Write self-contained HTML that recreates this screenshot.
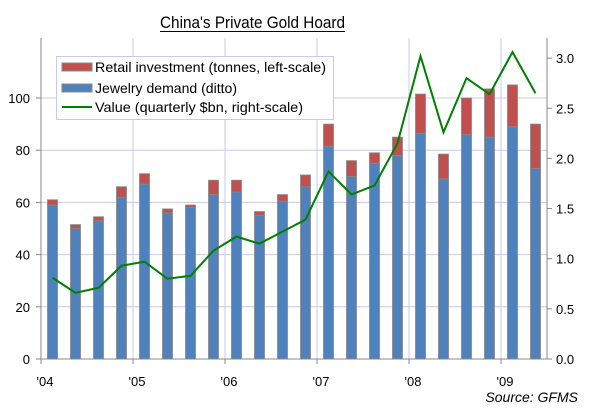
<!DOCTYPE html>
<html><head><meta charset="utf-8"><style>
body{margin:0;background:#fff}
svg{display:block;font-family:"Liberation Sans",sans-serif}
</style></head><body>
<svg id="c" width="607" height="414">
<text x="160" y="28" font-size="17" textLength="185" lengthAdjust="spacingAndGlyphs">China's Private Gold Hoard</text>
<line x1="160" y1="31.5" x2="345" y2="31.5" stroke="#000" stroke-width="1"/>
<g id="grid"></g><g id="bars"></g><g id="line"></g><g id="axes"></g>
<g>
<rect x="56.5" y="56.5" width="277" height="63" fill="#fff" stroke="#c8c8f0"/>
<rect x="62" y="63" width="30" height="8" fill="#c0504d" stroke="#888"/>
<text x="95" y="72" font-size="14" textLength="231" lengthAdjust="spacingAndGlyphs">Retail investment (tonnes, left-scale)</text>
<rect x="62" y="84" width="30" height="8" fill="#4f81bd" stroke="#888"/>
<text x="95" y="93" font-size="14" textLength="142" lengthAdjust="spacingAndGlyphs">Jewelry demand (ditto)</text>
<line x1="62" y1="107" x2="92" y2="107" stroke="#008000" stroke-width="2"/>
<text x="95" y="112" font-size="14" textLength="208" lengthAdjust="spacingAndGlyphs">Value (quarterly $bn, right-scale)</text>
</g>
<text x="578" y="402" text-anchor="end" font-size="14" font-style="italic">Source: GFMS</text>
</svg>
<script>
const years=["'04","'05","'06","'07","'08","'09"];
const leftTicks=[0,20,40,60,80,100];
const rightTicks=["0.0","0.5","1.0","1.5","2.0","2.5","3.0"];
const totals=[61,51.5,54.5,66,71,57.5,59,68.5,68.5,56.5,63,70.5,90,76,79,85,101.5,78.5,100,103.5,105,90];
const jewelry=[59,50,53,62,67,56,58,63,64,55,60.5,66,81.5,70,75,78,86.5,69,86,85,89,73];
const values=[0.81,0.66,0.71,0.93,0.97,0.80,0.83,1.08,1.22,1.15,1.27,1.39,1.87,1.64,1.73,2.15,3.02,2.26,2.80,2.64,3.06,2.65];
const NS="http://www.w3.org/2000/svg";
const X0=41,QW=23,Y0=359,TOP=38;
const yL=v=>Y0-v*2.61, yR=v=>Y0-v*100.3, xQ=i=>X0+QW*(i+0.5);
function mk(p,t,a){const e=document.createElementNS(NS,t);for(const k in a)e.setAttribute(k,a[k]);document.getElementById(p).appendChild(e);return e;}
const grid='#c8c8f0';
leftTicks.forEach((t,i)=>{if(t>0){const g=mk('grid','line',{x1:X0,x2:547,y1:yL(t),y2:yL(t),stroke:grid});

}
const tk=mk('axes','line',{x1:X0-5,x2:X0,y1:yL(t),y2:yL(t),stroke:'#888'});
const lb=mk('axes','text',{x:X0-11,y:yL(t)+5,'text-anchor':'end','font-size':'13'});lb.textContent=t;

});
years.forEach((y,i)=>{const x=X0+i*4*QW;
if(i>0){const g=mk('grid','line',{x1:x,x2:x,y1:TOP,y2:Y0,stroke:grid});

}
mk('axes','line',{x1:x,x2:x,y1:Y0,y2:Y0+5,stroke:'#888'});
const lb=mk('axes','text',{x:x+4,y:386,'text-anchor':'middle','font-size':'13'});lb.textContent=y;

});
rightTicks.forEach(t=>{const y=yR(+t);mk('axes','line',{x1:547,x2:552,y1:y,y2:y,stroke:'#888'});
const lb=mk('axes','text',{x:556,y:y+5,'font-size':'13'});lb.textContent=t;

});
mk('axes','line',{x1:X0,x2:X0,y1:TOP,y2:Y0,stroke:'#888'});
mk('axes','line',{x1:547,x2:547,y1:TOP,y2:Y0,stroke:'#888'});
mk('axes','line',{x1:X0-5,x2:552,y1:Y0,y2:Y0,stroke:'#888'});
totals.forEach((t,i)=>{const x=xQ(i)-5;
const j=mk('bars','rect',{x:x,y:yL(jewelry[i]),width:10,height:Y0-yL(jewelry[i]),fill:'#4f81bd',stroke:'#888','stroke-width':0.8});


const r=mk('bars','rect',{x:x,y:yL(t),width:10,height:yL(jewelry[i])-yL(t),fill:'#c0504d',stroke:'#888','stroke-width':0.8});

});
const pl=mk('line','polyline',{points:values.map((v,i)=>xQ(i)+','+yR(v)).join(' '),fill:'none',stroke:'#008000','stroke-width':2});


</script>
</body></html>
